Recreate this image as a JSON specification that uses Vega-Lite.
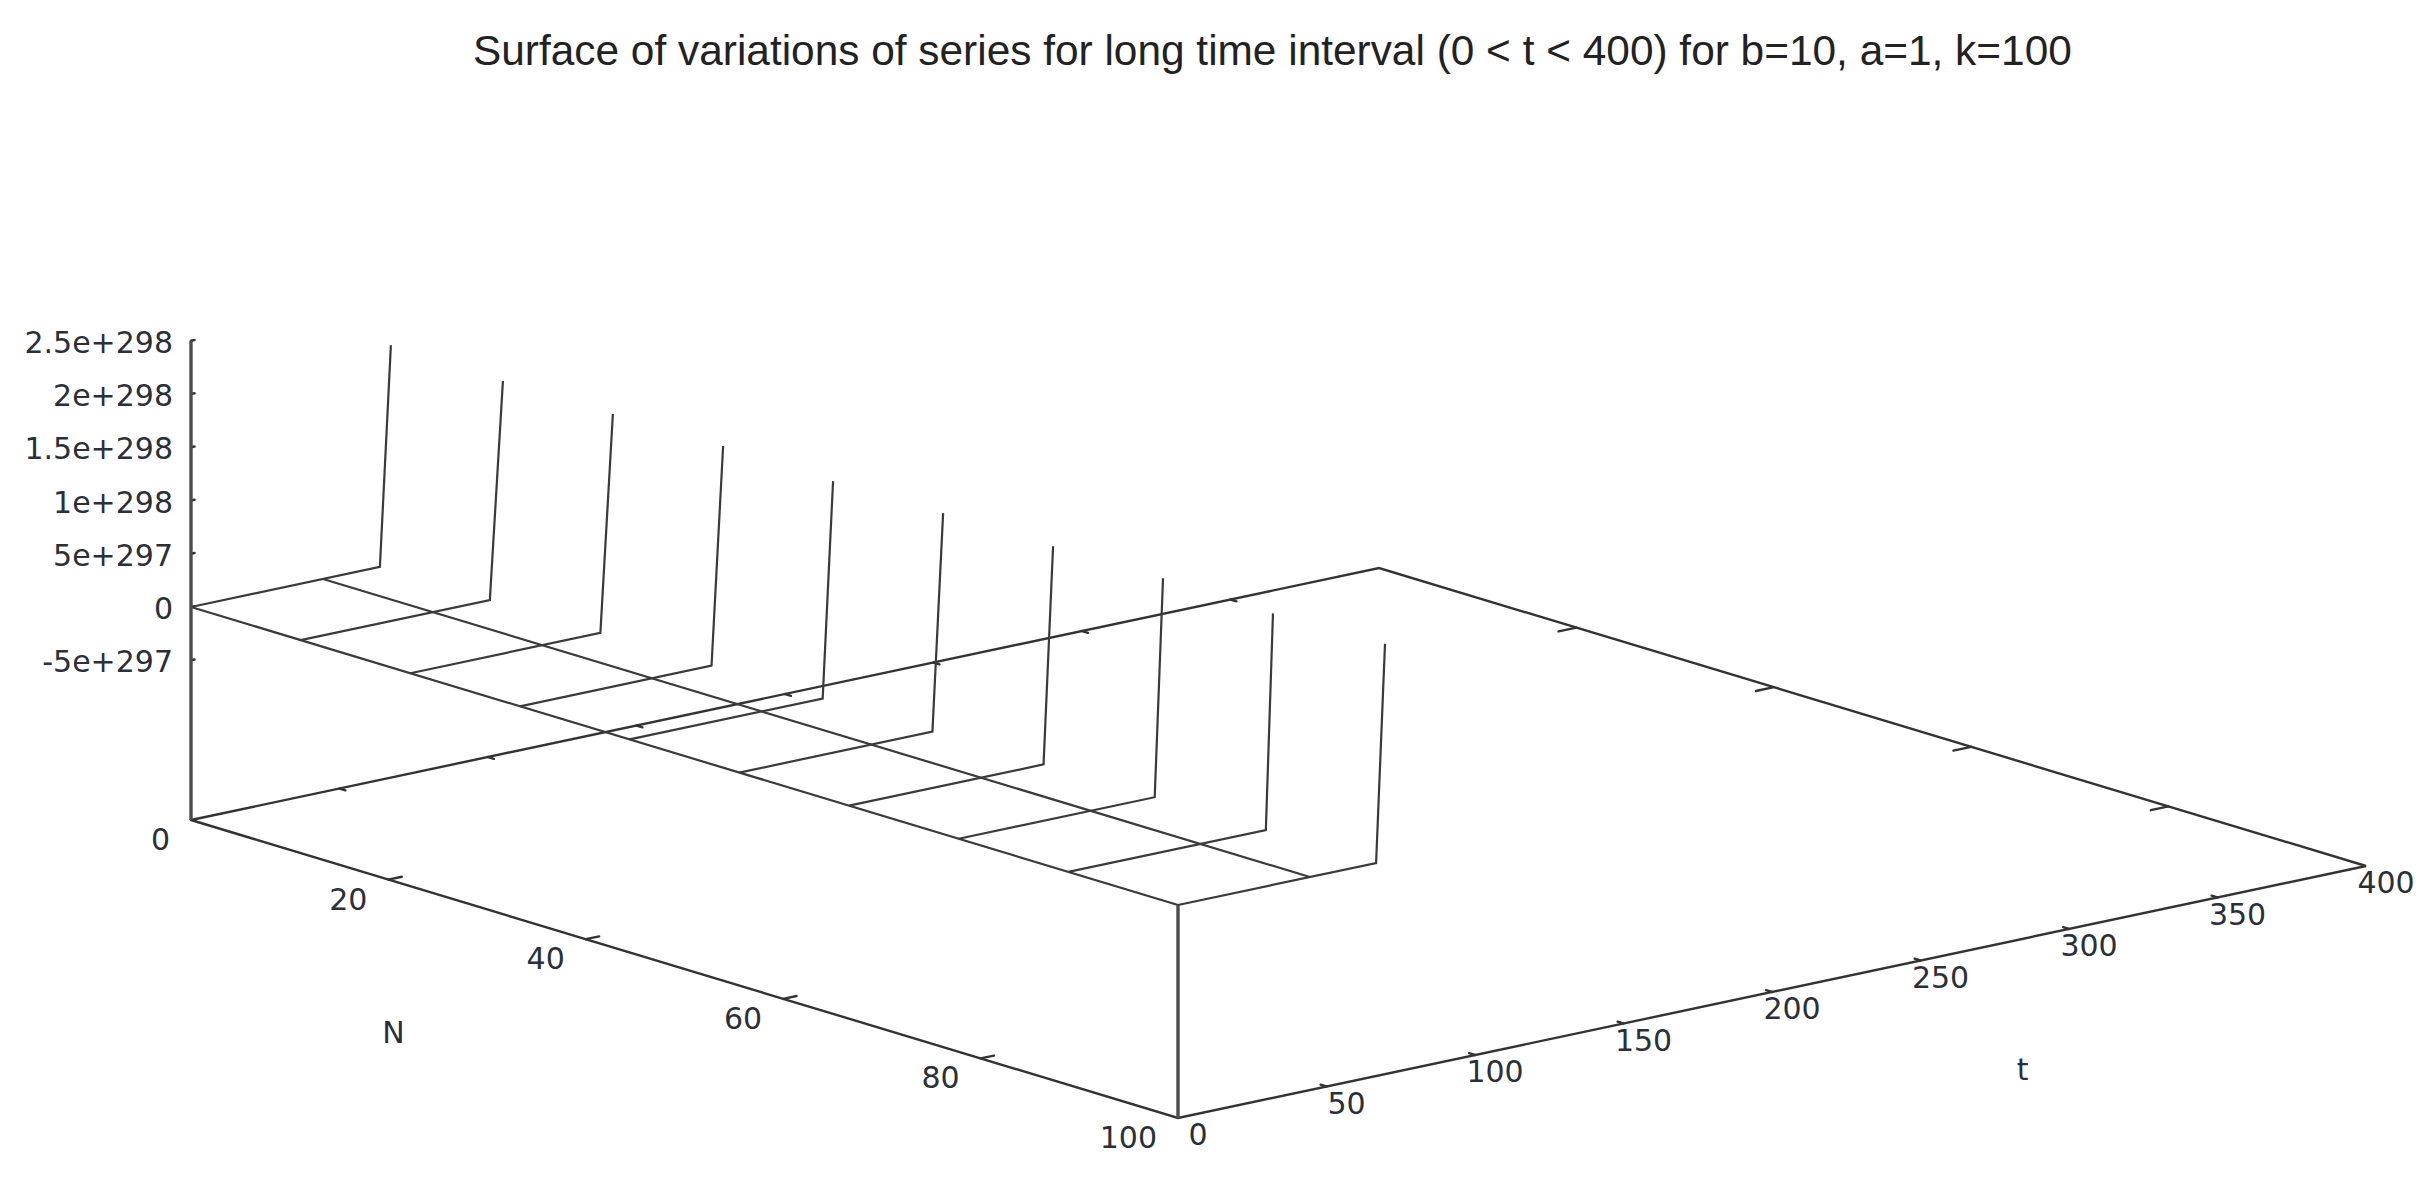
{
  "$schema": "https://vega.github.io/schema/vega-lite/v6.json",
  "width": 2425,
  "height": 1185,
  "autosize": "none",
  "padding": 0,
  "background": "white",
  "config": {"view": {"stroke": null}},
  "title": {
    "text": "Surface of variations of series for long time interval (0 < t < 400) for b=10, a=1, k=100",
    "anchor": "start",
    "frame": "group",
    "dx": 473,
    "offset": -74,
    "font": "Liberation Sans",
    "fontSize": 42.4,
    "fontWeight": "normal",
    "color": "#222222"
  },
  "data": {
    "values": [
      {"kind": "axis", "seg": "zaxis", "ord": 0, "t": 0, "N": 0, "z": -2e298},
      {"kind": "axis", "seg": "zaxis", "ord": 1, "t": 0, "N": 0, "z": 2.5e298},
      {"kind": "axis", "seg": "corner", "ord": 0, "t": 0, "N": 100, "z": -2e298},
      {"kind": "axis", "seg": "corner", "ord": 1, "t": 0, "N": 100, "z": 0},

      {"kind": "frame", "seg": "base", "ord": 0, "t": 0, "N": 0, "z": -2e298},
      {"kind": "frame", "seg": "base", "ord": 1, "t": 0, "N": 100, "z": -2e298},
      {"kind": "frame", "seg": "base", "ord": 2, "t": 400, "N": 100, "z": -2e298},
      {"kind": "frame", "seg": "base", "ord": 3, "t": 400, "N": 0, "z": -2e298},
      {"kind": "frame", "seg": "base", "ord": 4, "t": 0, "N": 0, "z": -2e298},

      {"kind": "frame", "seg": "nf20", "ord": 0, "t": 0, "N": 20, "z": -2e298},
      {"kind": "frame", "seg": "nf20", "ord": 1, "t": 4.5, "N": 20, "z": -2e298},
      {"kind": "frame", "seg": "nf40", "ord": 0, "t": 0, "N": 40, "z": -2e298},
      {"kind": "frame", "seg": "nf40", "ord": 1, "t": 4.5, "N": 40, "z": -2e298},
      {"kind": "frame", "seg": "nf60", "ord": 0, "t": 0, "N": 60, "z": -2e298},
      {"kind": "frame", "seg": "nf60", "ord": 1, "t": 4.5, "N": 60, "z": -2e298},
      {"kind": "frame", "seg": "nf80", "ord": 0, "t": 0, "N": 80, "z": -2e298},
      {"kind": "frame", "seg": "nf80", "ord": 1, "t": 4.5, "N": 80, "z": -2e298},
      {"kind": "frame", "seg": "nb20", "ord": 0, "t": 400, "N": 20, "z": -2e298},
      {"kind": "frame", "seg": "nb20", "ord": 1, "t": 394, "N": 20, "z": -2e298},
      {"kind": "frame", "seg": "nb40", "ord": 0, "t": 400, "N": 40, "z": -2e298},
      {"kind": "frame", "seg": "nb40", "ord": 1, "t": 394, "N": 40, "z": -2e298},
      {"kind": "frame", "seg": "nb60", "ord": 0, "t": 400, "N": 60, "z": -2e298},
      {"kind": "frame", "seg": "nb60", "ord": 1, "t": 394, "N": 60, "z": -2e298},
      {"kind": "frame", "seg": "nb80", "ord": 0, "t": 400, "N": 80, "z": -2e298},
      {"kind": "frame", "seg": "nb80", "ord": 1, "t": 394, "N": 80, "z": -2e298},

      {"kind": "frame", "seg": "tf50", "ord": 0, "t": 50, "N": 100, "z": -2e298},
      {"kind": "frame", "seg": "tf50", "ord": 1, "t": 50, "N": 99.4, "z": -2e298},
      {"kind": "frame", "seg": "tf100", "ord": 0, "t": 100, "N": 100, "z": -2e298},
      {"kind": "frame", "seg": "tf100", "ord": 1, "t": 100, "N": 99.4, "z": -2e298},
      {"kind": "frame", "seg": "tf150", "ord": 0, "t": 150, "N": 100, "z": -2e298},
      {"kind": "frame", "seg": "tf150", "ord": 1, "t": 150, "N": 99.4, "z": -2e298},
      {"kind": "frame", "seg": "tf200", "ord": 0, "t": 200, "N": 100, "z": -2e298},
      {"kind": "frame", "seg": "tf200", "ord": 1, "t": 200, "N": 99.4, "z": -2e298},
      {"kind": "frame", "seg": "tf250", "ord": 0, "t": 250, "N": 100, "z": -2e298},
      {"kind": "frame", "seg": "tf250", "ord": 1, "t": 250, "N": 99.4, "z": -2e298},
      {"kind": "frame", "seg": "tf300", "ord": 0, "t": 300, "N": 100, "z": -2e298},
      {"kind": "frame", "seg": "tf300", "ord": 1, "t": 300, "N": 99.4, "z": -2e298},
      {"kind": "frame", "seg": "tf350", "ord": 0, "t": 350, "N": 100, "z": -2e298},
      {"kind": "frame", "seg": "tf350", "ord": 1, "t": 350, "N": 99.4, "z": -2e298},
      {"kind": "frame", "seg": "tb50", "ord": 0, "t": 50, "N": 0, "z": -2e298},
      {"kind": "frame", "seg": "tb50", "ord": 1, "t": 50, "N": 0.6, "z": -2e298},
      {"kind": "frame", "seg": "tb100", "ord": 0, "t": 100, "N": 0, "z": -2e298},
      {"kind": "frame", "seg": "tb100", "ord": 1, "t": 100, "N": 0.6, "z": -2e298},
      {"kind": "frame", "seg": "tb150", "ord": 0, "t": 150, "N": 0, "z": -2e298},
      {"kind": "frame", "seg": "tb150", "ord": 1, "t": 150, "N": 0.6, "z": -2e298},
      {"kind": "frame", "seg": "tb200", "ord": 0, "t": 200, "N": 0, "z": -2e298},
      {"kind": "frame", "seg": "tb200", "ord": 1, "t": 200, "N": 0.6, "z": -2e298},
      {"kind": "frame", "seg": "tb250", "ord": 0, "t": 250, "N": 0, "z": -2e298},
      {"kind": "frame", "seg": "tb250", "ord": 1, "t": 250, "N": 0.6, "z": -2e298},
      {"kind": "frame", "seg": "tb300", "ord": 0, "t": 300, "N": 0, "z": -2e298},
      {"kind": "frame", "seg": "tb300", "ord": 1, "t": 300, "N": 0.6, "z": -2e298},
      {"kind": "frame", "seg": "tb350", "ord": 0, "t": 350, "N": 0, "z": -2e298},
      {"kind": "frame", "seg": "tb350", "ord": 1, "t": 350, "N": 0.6, "z": -2e298},

      {"kind": "frame", "seg": "z1", "ord": 0, "t": 0, "N": 0, "z": 2.5e298},
      {"kind": "frame", "seg": "z1", "ord": 1, "t": 1.2, "N": 0, "z": 2.5e298},
      {"kind": "frame", "seg": "z2", "ord": 0, "t": 0, "N": 0, "z": 2e298},
      {"kind": "frame", "seg": "z2", "ord": 1, "t": 1.2, "N": 0, "z": 2e298},
      {"kind": "frame", "seg": "z3", "ord": 0, "t": 0, "N": 0, "z": 1.5e298},
      {"kind": "frame", "seg": "z3", "ord": 1, "t": 1.2, "N": 0, "z": 1.5e298},
      {"kind": "frame", "seg": "z4", "ord": 0, "t": 0, "N": 0, "z": 1e298},
      {"kind": "frame", "seg": "z4", "ord": 1, "t": 1.2, "N": 0, "z": 1e298},
      {"kind": "frame", "seg": "z5", "ord": 0, "t": 0, "N": 0, "z": 5e297},
      {"kind": "frame", "seg": "z5", "ord": 1, "t": 1.2, "N": 0, "z": 5e297},
      {"kind": "frame", "seg": "z6", "ord": 0, "t": 0, "N": 0, "z": 0},
      {"kind": "frame", "seg": "z6", "ord": 1, "t": 1.2, "N": 0, "z": 0},
      {"kind": "frame", "seg": "z7", "ord": 0, "t": 0, "N": 0, "z": -5e297},
      {"kind": "frame", "seg": "z7", "ord": 1, "t": 1.2, "N": 0, "z": -5e297},

      {"kind": "surface", "seg": "t0", "ord": 0, "t": 0, "N": 0, "z": 0},
      {"kind": "surface", "seg": "t0", "ord": 1, "t": 0, "N": 100, "z": 0},
      {"kind": "surface", "seg": "t44", "ord": 0, "t": 44.44, "N": 0, "z": 0},
      {"kind": "surface", "seg": "t44", "ord": 1, "t": 44.44, "N": 100, "z": 0},

      {"kind": "surface", "seg": "n0", "ord": 0, "t": 0, "N": 0, "z": 0},
      {"kind": "surface", "seg": "n0", "ord": 1, "t": 63.6, "N": 0, "z": 0},
      {"kind": "surface", "seg": "n0", "ord": 2, "t": 67.3, "N": 0, "z": 2.06e298},
      {"kind": "surface", "seg": "n11", "ord": 0, "t": 0, "N": 11.11, "z": 0},
      {"kind": "surface", "seg": "n11", "ord": 1, "t": 63.7, "N": 11.11, "z": 0},
      {"kind": "surface", "seg": "n11", "ord": 2, "t": 68.1, "N": 11.11, "z": 2.03e298},
      {"kind": "surface", "seg": "n22", "ord": 0, "t": 0, "N": 22.22, "z": 0},
      {"kind": "surface", "seg": "n22", "ord": 1, "t": 64, "N": 22.22, "z": 0},
      {"kind": "surface", "seg": "n22", "ord": 2, "t": 68.2, "N": 22.22, "z": 2.03e298},
      {"kind": "surface", "seg": "n33", "ord": 0, "t": 0, "N": 33.33, "z": 0},
      {"kind": "surface", "seg": "n33", "ord": 1, "t": 64.5, "N": 33.33, "z": 0},
      {"kind": "surface", "seg": "n33", "ord": 2, "t": 68.4, "N": 33.33, "z": 2.04e298},
      {"kind": "surface", "seg": "n44", "ord": 0, "t": 0, "N": 44.44, "z": 0},
      {"kind": "surface", "seg": "n44", "ord": 1, "t": 65, "N": 44.44, "z": 0},
      {"kind": "surface", "seg": "n44", "ord": 2, "t": 68.5, "N": 44.44, "z": 2.02e298},
      {"kind": "surface", "seg": "n56", "ord": 0, "t": 0, "N": 55.56, "z": 0},
      {"kind": "surface", "seg": "n56", "ord": 1, "t": 65, "N": 55.56, "z": 0},
      {"kind": "surface", "seg": "n56", "ord": 2, "t": 68.6, "N": 55.56, "z": 2.03e298},
      {"kind": "surface", "seg": "n67", "ord": 0, "t": 0, "N": 66.67, "z": 0},
      {"kind": "surface", "seg": "n67", "ord": 1, "t": 65.5, "N": 66.67, "z": 0},
      {"kind": "surface", "seg": "n67", "ord": 2, "t": 68.7, "N": 66.67, "z": 2.03e298},
      {"kind": "surface", "seg": "n78", "ord": 0, "t": 0, "N": 77.78, "z": 0},
      {"kind": "surface", "seg": "n78", "ord": 1, "t": 66, "N": 77.78, "z": 0},
      {"kind": "surface", "seg": "n78", "ord": 2, "t": 68.8, "N": 77.78, "z": 2.04e298},
      {"kind": "surface", "seg": "n89", "ord": 0, "t": 0, "N": 88.89, "z": 0},
      {"kind": "surface", "seg": "n89", "ord": 1, "t": 66.5, "N": 88.89, "z": 0},
      {"kind": "surface", "seg": "n89", "ord": 2, "t": 68.9, "N": 88.89, "z": 2.02e298},
      {"kind": "surface", "seg": "n100", "ord": 0, "t": 0, "N": 100, "z": 0},
      {"kind": "surface", "seg": "n100", "ord": 1, "t": 66.7, "N": 100, "z": 0},
      {"kind": "surface", "seg": "n100", "ord": 2, "t": 69.7, "N": 100, "z": 2.04e298},

      {"kind": "zlabel", "label": "2.5e+298", "t": 0, "N": 0, "z": 2.5e298},
      {"kind": "zlabel", "label": "2e+298", "t": 0, "N": 0, "z": 2e298},
      {"kind": "zlabel", "label": "1.5e+298", "t": 0, "N": 0, "z": 1.5e298},
      {"kind": "zlabel", "label": "1e+298", "t": 0, "N": 0, "z": 1e298},
      {"kind": "zlabel", "label": "5e+297", "t": 0, "N": 0, "z": 5e297},
      {"kind": "zlabel", "label": "0", "t": 0, "N": 0, "z": 0},
      {"kind": "zlabel", "label": "-5e+297", "t": 0, "N": 0, "z": -5e297},

      {"kind": "nlabel", "label": "0", "t": 0, "N": 0, "z": -2e298},
      {"kind": "nlabel", "label": "20", "t": 0, "N": 20, "z": -2e298},
      {"kind": "nlabel", "label": "40", "t": 0, "N": 40, "z": -2e298},
      {"kind": "nlabel", "label": "60", "t": 0, "N": 60, "z": -2e298},
      {"kind": "nlabel", "label": "80", "t": 0, "N": 80, "z": -2e298},
      {"kind": "nlabel", "label": "100", "t": 0, "N": 100, "z": -2e298},

      {"kind": "tlabel", "label": "0", "t": 0, "N": 100, "z": -2e298},
      {"kind": "tlabel", "label": "50", "t": 50, "N": 100, "z": -2e298},
      {"kind": "tlabel", "label": "100", "t": 100, "N": 100, "z": -2e298},
      {"kind": "tlabel", "label": "150", "t": 150, "N": 100, "z": -2e298},
      {"kind": "tlabel", "label": "200", "t": 200, "N": 100, "z": -2e298},
      {"kind": "tlabel", "label": "250", "t": 250, "N": 100, "z": -2e298},
      {"kind": "tlabel", "label": "300", "t": 300, "N": 100, "z": -2e298},
      {"kind": "tlabel", "label": "350", "t": 350, "N": 100, "z": -2e298},
      {"kind": "tlabel", "label": "400", "t": 400, "N": 100, "z": -2e298},

      {"kind": "axistitle", "label": "N", "t": -100, "N": 50.6, "z": -2e298},
      {"kind": "axistitle", "label": "t", "t": 198, "N": 126, "z": -2e298}
    ]
  },
  "transform": [
    {"calculate": "191 + 9.87 * datum.N + 2.97 * datum.t", "as": "sx"},
    {"calculate": "607 + 2.98 * datum.N - 0.63 * datum.t - 10.65 * datum.z / 1e297", "as": "sy"}
  ],
  "encoding": {
    "x": {"field": "sx", "type": "quantitative", "axis": null, "scale": {"domain": [0, 2425], "nice": false, "zero": false}},
    "y": {"field": "sy", "type": "quantitative", "axis": null, "scale": {"domain": [1185, 0], "nice": false, "zero": false}}
  },
  "layer": [
    {
      "transform": [{"filter": "datum.kind == 'frame'"}],
      "mark": {"type": "line", "color": "#333333", "strokeWidth": 2.4, "strokeCap": "round"},
      "encoding": {"detail": {"field": "seg"}, "order": {"field": "ord"}}
    },
    {
      "transform": [{"filter": "datum.kind == 'surface'"}],
      "mark": {"type": "line", "color": "#3a3a3a", "strokeWidth": 2.2, "strokeJoin": "miter"},
      "encoding": {"detail": {"field": "seg"}, "order": {"field": "ord"}}
    },
    {
      "transform": [{"filter": "datum.kind == 'axis'"}],
      "mark": {"type": "line", "color": "#4d4d4d", "strokeWidth": 3.4},
      "encoding": {"detail": {"field": "seg"}, "order": {"field": "ord"}}
    },
    {
      "transform": [{"filter": "datum.kind == 'zlabel'"}],
      "mark": {"type": "text", "align": "right", "baseline": "middle", "dx": -18, "dy": 3, "font": "DejaVu Sans", "fontSize": 30, "color": "#2a2f38"},
      "encoding": {"text": {"field": "label"}}
    },
    {
      "transform": [{"filter": "datum.kind == 'nlabel'"}],
      "mark": {"type": "text", "align": "right", "baseline": "middle", "dx": -21, "dy": 21, "font": "DejaVu Sans", "fontSize": 30, "color": "#2a2f38"},
      "encoding": {"text": {"field": "label"}}
    },
    {
      "transform": [{"filter": "datum.kind == 'tlabel'"}],
      "mark": {"type": "text", "align": "center", "baseline": "middle", "dx": 20, "dy": 18, "font": "DejaVu Sans", "fontSize": 30, "color": "#2a2f38"},
      "encoding": {"text": {"field": "label"}}
    },
    {
      "transform": [{"filter": "datum.kind == 'axistitle'"}],
      "mark": {"type": "text", "align": "center", "baseline": "middle", "font": "DejaVu Sans", "fontSize": 30, "color": "#2a2f38"},
      "encoding": {"text": {"field": "label"}}
    }
  ]
}
